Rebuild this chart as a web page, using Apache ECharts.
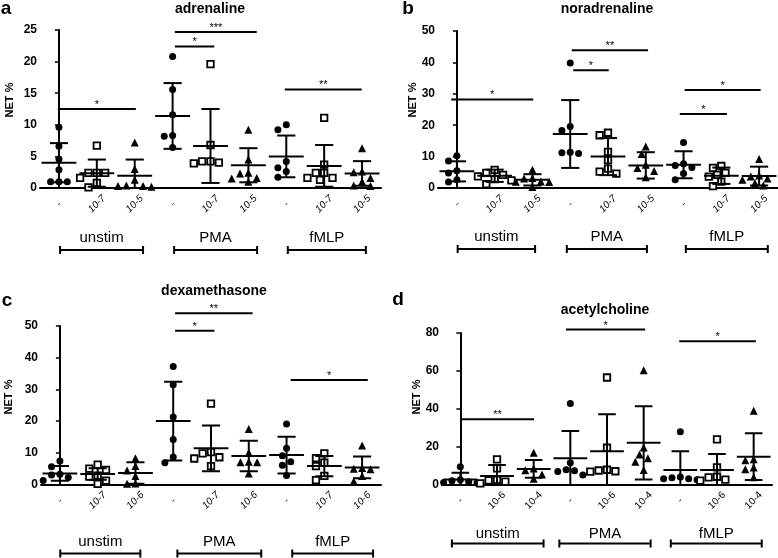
<!DOCTYPE html>
<html><head><meta charset="utf-8">
<script src="https://cdn.jsdelivr.net/npm/echarts@6/dist/echarts.min.js"></script>
<style>html,body{margin:0;padding:0;background:#fff}#c{width:778px;height:558px}</style>
</head><body><div id="c"></div>
<script>
// ---------- DATA ----------
const groupNames = ['unstim', 'PMA', 'fMLP'];
const panelTitles = ['adrenaline', 'noradrenaline', 'dexamethasone', 'acetylcholine'];
const panelLetters = ['a', 'b', 'c', 'd'];

const aLabels = ['-', '10-7', '10-5', '-', '10-7', '10-5', '-', '10-7', '10-5'];
const bLabels = ['-', '10-7', '10-5', '-', '10-7', '10-5', '-', '10-7', '10-5'];
const cLabels = ['-', '10-7', '10-6', '-', '10-7', '10-6', '-', '10-7', '10-6'];
const dLabels = ['-', '10-6', '10-4', '-', '10-6', '10-4', '-', '10-6', '10-4'];

const aYTicks = [0, 5, 10, 15, 20, 25];
const bYTicks = [0, 10, 20, 30, 40, 50];
const cYTicks = [0, 10, 20, 30, 40, 50];
const dYTicks = [0, 20, 40, 60, 80];

const aPoints = [
  [9.6, 6.6, 4.6, 2.9, 1.0, 1.0, 1.0],
  [6.7, 2.4, 2.4, 2.4, 1.6, 0.8, 0.1],
  [7.2, 3.0, 1.3, 0.4, 0.3, 0.3, 0.2],
  [20.8, 15.6, 11.6, 8.3, 8.2, 6.4],
  [19.6, 6.8, 4.2, 4.0, 3.9, 4.2],
  [9.2, 4.5, 2.4, 2.3, 1.6, 1.5, 1.0],
  [10.0, 9.2, 4.2, 3.2, 2.6, 1.7],
  [11.1, 3.7, 2.4, 2.4, 1.6, 1.6, 1.3],
  [6.3, 2.6, 2.5, 1.6, 1.0, 0.4, 0.3]
];
const aMean = [4.0, 2.35, 1.95, 11.4, 6.65, 3.6, 5.0, 3.5, 2.3];
const aSD = [3.1, 2.15, 2.55, 5.2, 5.85, 2.7, 3.3, 3.3, 1.95];
const aSig = [[-0.03, 2.03, 12.5, '*'], [3.06, 5.22, 24.7, '***'], [3.06, 4.1, 22.4, '*'], [5.96, 7.99, 15.6, '**']];

const bPoints = [
  [10.3, 8.6, 5.5, 4.8, 2.6, 1.9],
  [5.8, 4.8, 4.2, 3.7, 2.8, 2.4, 1.2],
  [5.8, 3.2, 3.0, 2.1, 2.0, 1.9, 0.3],
  [39.8, 19.6, 18.3, 11.4, 11.2, 11.0],
  [17.6, 16.8, 11.5, 8.9, 6.2, 5.2, 4.6],
  [13.2, 10.8, 7.4, 6.4, 5.4, 3.4],
  [14.5, 7.7, 7.2, 6.5, 4.6, 2.6],
  [7.0, 6.4, 4.8, 4.2, 3.6, 2.0, 0.6],
  [9.2, 4.0, 3.7, 3.0, 2.6, 1.6, 0.8]
];
const bMean = [5.3, 3.9, 2.6, 17.2, 10.0, 7.2, 7.4, 3.9, 3.8];
const bSD = [3.2, 1.95, 1.8, 10.8, 5.9, 4.2, 4.3, 2.6, 3.0];
const bSig = [[-0.15, 2.02, 28.2, '*'], [3.04, 5.06, 43.9, '**'], [3.08, 4.02, 37.5, '*'], [6.03, 8.04, 31.2, '*'], [5.9, 7.15, 23.6, '*']];

const cPoints = [
  [7.4, 5.6, 3.2, 3.0, 2.2, 1.3],
  [6.3, 5.0, 4.6, 2.8, 2.5, 1.2, 0.2],
  [8.3, 5.8, 4.4, 2.7, 0.3, 0.2],
  [37.2, 31.5, 21.3, 14.2, 8.7, 6.9],
  [25.5, 10.2, 9.8, 8.6, 8.2, 5.8],
  [17.5, 10.0, 7.2, 7.0, 7.0, 3.5],
  [19.1, 11.4, 9.1, 7.2, 6.1, 2.8],
  [9.8, 8.3, 6.9, 5.8, 2.7, 1.4],
  [12.3, 5.2, 5.0, 4.8, 2.7, 1.0]
];
const cMean = [3.5, 3.3, 3.6, 20.0, 11.4, 9.0, 9.3, 5.8, 5.4];
const cSD = [2.3, 1.8, 3.4, 12.4, 7.2, 4.8, 5.8, 3.2, 3.4];
const cSig = [[3.05, 5.1, 54.0, '**'], [3.05, 4.09, 48.5, '*'], [6.11, 8.15, 33.0, '*']];

const dPoints = [
  [9.4, 2.5, 2.0, 1.5, 1.0, 0.8],
  [13.3, 8.5, 2.4, 2.2, 1.5, 0.6],
  [16.8, 8.5, 7.5, 5.3, 3.0],
  [42.8, 11.5, 7.8, 7.2, 6.8, 5.0],
  [56.5, 19.4, 7.8, 7.4, 7.0, 6.8],
  [60.3, 19.6, 15.9, 13.8, 12.0, 7.6],
  [27.8, 4.0, 3.5, 3.0, 3.0, 2.5],
  [23.8, 9.0, 4.1, 3.8, 2.6, 2.0],
  [38.9, 13.3, 12.8, 9.0, 8.0, 3.8]
];
const dMean = [2.7, 4.5, 8.2, 13.8, 17.6, 22.0, 7.6, 7.6, 14.7];
const dSD = [3.5, 5.8, 4.7, 14.4, 19.5, 19.3, 10.0, 8.5, 12.3];
const dSig = [[0.02, 2.01, 34.5, '**'], [2.88, 5.04, 81.8, '*'], [5.97, 8.06, 75.6, '*']];

// ---------- LAYOUT / STYLE ----------
const FONT = '"Liberation Sans", Arial, Helvetica, sans-serif';
const panels = [
  {labels: aLabels, ticks: aYTicks, pts: aPoints, mean: aMean, sd: aSD, sig: aSig},
  {labels: bLabels, ticks: bYTicks, pts: bPoints, mean: bMean, sd: bSD, sig: bSig},
  {labels: cLabels, ticks: cYTicks, pts: cPoints, mean: cMean, sd: cSD, sig: cSig},
  {labels: dLabels, ticks: dYTicks, pts: dPoints, mean: dMean, sd: dSD, sig: dSig}
];
const layout = [
  {left: 40, top: 30, width: 341, height: 158, italic: true, title: [210, 9], letter: [6, 9], yname: [10, 100],
   labDy: 50, brDy: 62, brackets: [[0.03, 2.22], [3.04, 5.23], [6.04, 8.1]]},
  {left: 438, top: 31, width: 340, height: 157, italic: true, title: [607, 9], letter: [408, 9], yname: [413, 100],
   labDy: 49, brDy: 61, brackets: [[0.02, 2.07], [2.91, 5.03], [6.06, 8.23]]},
  {left: 41, top: 326, width: 340, height: 158.5, italic: true, title: [214, 291], letter: [7, 301], yname: [9, 397],
   labDy: 57, brDy: 69, brackets: [[0.01, 2.13], [3.11, 5.33], [6.15, 8.29]]},
  {left: 442, top: 333, width: 330, height: 151.5, italic: false, title: [605, 310], letter: [398, 300], yname: [417, 397],
   labDy: 49, brDy: 59, brackets: [[-0.23, 2.27], [2.7, 5.19], [5.74, 8.22]]}
];

function swarm(values, pxPerUnit, d) {
  const order = values.map((v, i) => i).sort((i, j) => values[j] - values[i]);
  const placed = [];
  const off = new Array(values.length).fill(0);
  const step = d * 0.55;
  order.forEach(i => {
    const y = values[i] * pxPerUnit;
    for (let k = 0; k < 60; k++) {
      const cand = k === 0 ? 0 : (k % 2 === 1 ? -1 : 1) * Math.ceil(k / 2) * step;
      if (placed.every(p => Math.hypot(p.x - cand, p.y - y) >= d)) {
        off[i] = cand; placed.push({x: cand, y}); break;
      }
    }
  });
  return off;
}

const grid = [], xAxis = [], yAxis = [], series = [];
const shapes = [
  {symbol: 'circle', size: 7, style: {color: '#000'}},
  {symbol: 'rect', size: 6.5, style: {color: '#fff', borderColor: '#000', borderWidth: 1.8}},
  {symbol: 'triangle', size: 8, style: {color: '#000'}}
];

panels.forEach((p, i) => {
  const L = layout[i];
  const yMax = p.ticks[p.ticks.length - 1];
  const yStep = p.ticks[1] - p.ticks[0];
  grid.push({left: L.left, top: L.top, width: L.width, height: L.height, containLabel: false});
  xAxis.push({
    gridIndex: i, type: 'category', data: p.labels, boundaryGap: true,
    axisLine: {lineStyle: {color: '#000', width: 2}},
    axisTick: {alignWithLabel: true, length: 5, lineStyle: {color: '#000', width: 1.5}},
    axisLabel: {interval: 0, rotate: 45, align: 'center', verticalAlign: 'middle', margin: 16,
      fontSize: 10, fontStyle: L.italic ? 'italic' : 'normal', color: '#000', fontFamily: FONT},
    splitLine: {show: false}
  });
  xAxis.push({gridIndex: i, type: 'value', min: -0.5, max: 8.5, show: false});
  yAxis.push({
    gridIndex: i, type: 'value', min: 0, max: yMax, interval: yStep,
    axisLine: {show: true, lineStyle: {color: '#000', width: 2}},
    axisTick: {show: true, length: 4, lineStyle: {color: '#000', width: 1.5}},
    axisLabel: {fontWeight: 'bold', fontSize: 12, color: '#000', margin: 3, fontFamily: FONT},
    splitLine: {show: false}
  });
  const cw = L.width / 9;
  const ppu = L.height / yMax;
  for (let k = 0; k < 3; k++) {
    const data = [];
    for (let g = k; g < 9; g += 3) {
      const off = swarm(p.pts[g], ppu, 7.6);
      p.pts[g].forEach((v, j) => data.push([g + off[j] / cw, v]));
    }
    series.push({
      type: 'scatter', xAxisIndex: 2 * i + 1, yAxisIndex: i, symbol: shapes[k].symbol,
      symbolSize: shapes[k].size, itemStyle: Object.assign({opacity: 1}, shapes[k].style),
      data, z: 2, silent: true, animation: false
    });
  }
  series.push({
    type: 'custom', xAxisIndex: 2 * i + 1, yAxisIndex: i, clip: true, z: 3, silent: true, animation: false,
    encode: {x: 0, y: 1},
    data: p.mean.map((m, g) => [g, m, p.sd[g]]),
    renderItem: (params, api) => {
      const x = api.value(0), m = api.value(1), s = api.value(2);
      const c = api.coord([x, m]), hi = api.coord([x, m + s]), lo = api.coord([x, m - s]);
      const w = api.size([1, 0])[0];
      const st = {stroke: '#000', lineWidth: 2};
      return {type: 'group', children: [
        {type: 'line', shape: {x1: c[0], y1: hi[1], x2: c[0], y2: lo[1]}, style: st},
        {type: 'line', shape: {x1: c[0] - w * 0.24, y1: hi[1], x2: c[0] + w * 0.24, y2: hi[1]}, style: st},
        {type: 'line', shape: {x1: c[0] - w * 0.24, y1: lo[1], x2: c[0] + w * 0.24, y2: lo[1]}, style: st},
        {type: 'line', shape: {x1: c[0] - w * 0.46, y1: c[1], x2: c[0] + w * 0.46, y2: c[1]}, style: st}
      ]};
    }
  });
});

const chart = echarts.init(document.getElementById('c'), null, {renderer: 'canvas'});
chart.setOption({animation: false, backgroundColor: '#fff', grid, xAxis, yAxis, series});

function txt(x, y, text, font, extra) {
  return Object.assign({
    type: 'text', x, y, silent: true,
    style: {text, font, fill: '#000', textAlign: 'center', textVerticalAlign: 'middle', align: 'center', verticalAlign: 'middle'}
  }, extra || {});
}
const lineSt = {stroke: '#000', lineWidth: 2};
const graphic = [];
panels.forEach((p, i) => {
  const L = layout[i];
  const finder = {xAxisIndex: 2 * i + 1, yAxisIndex: i};
  graphic.push(txt(L.title[0], L.title[1], panelTitles[i], 'bold 14px ' + FONT));
  graphic.push(txt(L.letter[0], L.letter[1], panelLetters[i], 'bold 19px ' + FONT));
  graphic.push(txt(L.yname[0], L.yname[1], 'NET %', 'bold 11px ' + FONT, {rotation: Math.PI / 2}));
  p.sig.forEach(s => {
    const a = chart.convertToPixel(finder, [s[0], s[2]]);
    const b = chart.convertToPixel(finder, [s[1], s[2]]);
    graphic.push({type: 'line', silent: true, shape: {x1: a[0], y1: a[1], x2: b[0], y2: b[1]}, style: lineSt});
    graphic.push(txt((a[0] + b[0]) / 2, a[1] - 4, s[3], '11px ' + FONT));
  });
  const axisY = chart.convertToPixel(finder, [0, 0])[1];
  L.brackets.forEach((br, gi) => {
    const x1 = chart.convertToPixel(finder, [br[0], 0])[0];
    const x2 = chart.convertToPixel(finder, [br[1], 0])[0];
    const y = axisY + L.brDy;
    graphic.push({type: 'line', silent: true, shape: {x1, y1: y, x2, y2: y}, style: lineSt});
    graphic.push({type: 'line', silent: true, shape: {x1, y1: y - 4, x2: x1, y2: y + 4}, style: lineSt});
    graphic.push({type: 'line', silent: true, shape: {x1: x2, y1: y - 4, x2, y2: y + 4}, style: lineSt});
    graphic.push(txt((x1 + x2) / 2, axisY + L.labDy, groupNames[gi], '15px ' + FONT));
  });
});
chart.setOption({graphic});
</script></body></html>
